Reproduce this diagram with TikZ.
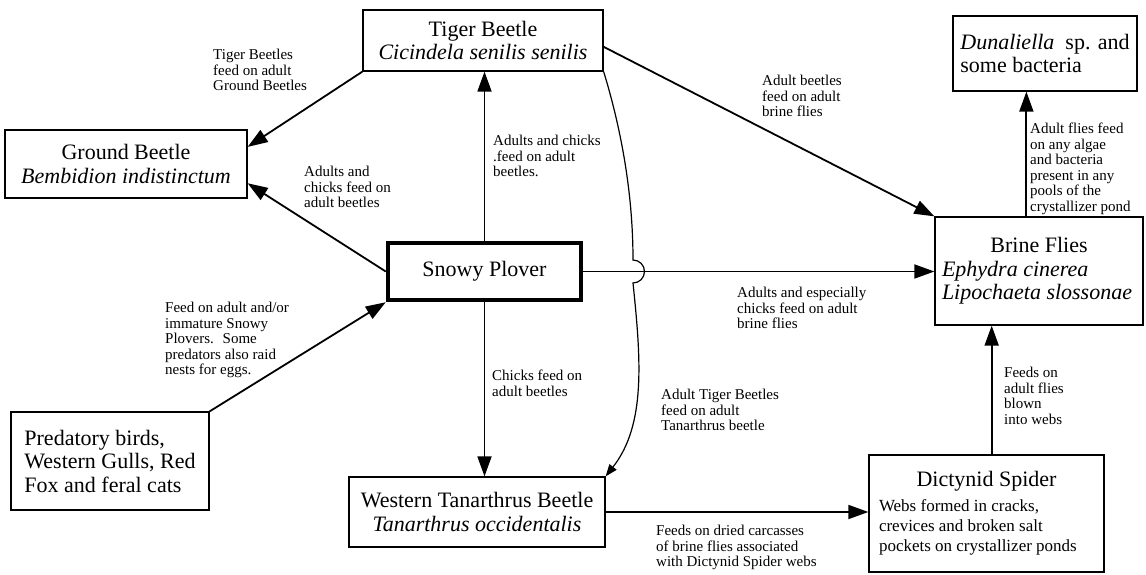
\documentclass[tikz,border=0pt]{standalone}
\usepackage{fontspec}
\setmainfont{Liberation Serif}
\usetikzlibrary{arrows.meta}
\begin{document}
\begin{tikzpicture}
[x=1pt, y=-1pt, line join=miter]

\tikzstyle{box}=[rectangle, draw, line width=1.3pt, inner sep=0pt, align=center, font=\fontsize{22}{23.5}\selectfont]
\tikzstyle{note}=[anchor=north west, inner sep=0pt, align=left, font=\fontsize{15}{15.5}\selectfont]
\tikzstyle{feed}=[line width=1.8pt, -{Triangle[length=20pt, width=14pt]}]
\tikzstyle{thin feed}=[line width=1.2pt, -{Triangle[length=12pt, width=9pt]}]

\useasboundingbox (0,0) rectangle (1146,575);

\node[box, minimum width=240pt, minimum height=61pt]	(TB)	at (483,40.5)	{Tiger Beetle\\\textit{Cicindela senilis senilis}};
\node[box, minimum width=242pt, minimum height=68pt]	(GB)	at (126,164)	{Ground Beetle\\\textit{Bembidion indistinctum}};
\node[box, line width=4.5pt, minimum width=193pt, minimum height=57pt]	(SP)	at (484.5,271.5)	{Snowy Plover};
\node[box, align=left, minimum width=184pt, minimum height=75pt]	(DS)	at (1045,53.5)	{\textit{Dunaliella}~ sp. and\\some bacteria};
\node[box, align=left, minimum width=208pt, minimum height=108pt]	(BF)	at (1039,271)	{\makebox[194pt]{Brine Flies}\\\textit{Ephydra cinerea}\\\textit{Lipochaeta slossonae}};
\node[box, align=left, minimum width=198pt, minimum height=98pt]	(PB)	at (110,461)	{Predatory birds,\\Western Gulls, Red\\Fox and feral cats};
\node[box, minimum width=256pt, minimum height=70pt]	(WT)	at (477,512)	{Western Tanarthrus Beetle\\\textit{Tanarthrus occidentalis}};
\node[box, align=left, minimum width=235pt, minimum height=117pt, font=\fontsize{17}{20}\selectfont]	(DY)	at (986.5,513.5)	{\makebox[215pt]{\fontsize{22}{23.5}\selectfont Dictynid Spider}\\[5pt]Webs formed in cracks,\\crevices and broken salt\\pockets on crystallizer ponds};

\node[note]	(nTG)	at (213,49)	{Tiger Beetles\\feed on adult\\Ground Beetles};
\node[note]	(nSG)	at (304,166)	{Adults and\\chicks feed on\\adult beetles};
\node[note]	(nST)	at (493,135)	{Adults and chicks\\.feed on adult\\beetles.};
\node[note]	(nTB)	at (762,75)	{Adult beetles\\feed on adult\\brine flies};
\node[note]	(nBD)	at (1030,123)	{Adult flies feed\\on any algae\\and bacteria\\present in any\\pools of the\\crystallizer pond};
\node[note]	(nSB)	at (737,287)	{Adults and especially\\chicks feed on adult\\brine flies};
\node[note]	(nPS)	at (165,302)	{Feed on adult and/or\\immature Snowy\\Plovers.~ Some\\predators also raid\\nests for eggs.};
\node[note]	(nSW)	at (492,370)	{Chicks feed on\\adult beetles};
\node[note]	(nTW)	at (661,389)	{Adult Tiger Beetles\\feed on adult\\Tanarthrus beetle};
\node[note]	(nDB)	at (1004,367)	{Feeds on\\adult flies\\blown\\into webs};
\node[note]	(nWD)	at (656,525)	{Feeds on dried carcasses\\of brine flies associated\\with Dictynid Spider webs};

\draw[feed] (TB.south west) -- (GB.8);
\draw[feed] (SP.west) -- (GB.-9);
\draw[feed] (SP.north) -- (SP.north |- TB.south);
\draw[feed] (SP.south) -- (SP.south |- WT.north);
\draw[feed] (SP.east) -- (SP.east -| BF.west);
\draw[feed] (TB.-3) -- (BF.north west);
\draw[feed] (PB.north east) -- (SP.south west);
\draw[feed] (WT.east) -- (WT.east -| DY.west);
\draw[feed] (DY.85) -- (DY.85 |- BF.south);
\draw[feed] (BF.103.5) -- (BF.103.5 |- DS.south);
\draw[thin feed] (TB.south east) .. controls (620,125) and (633,190) .. (633,260) arc[start angle=-90, end angle=90, radius=11.5] .. controls (641,360) and (646,425) .. (WT.north east);
\end{tikzpicture}
\end{document}
